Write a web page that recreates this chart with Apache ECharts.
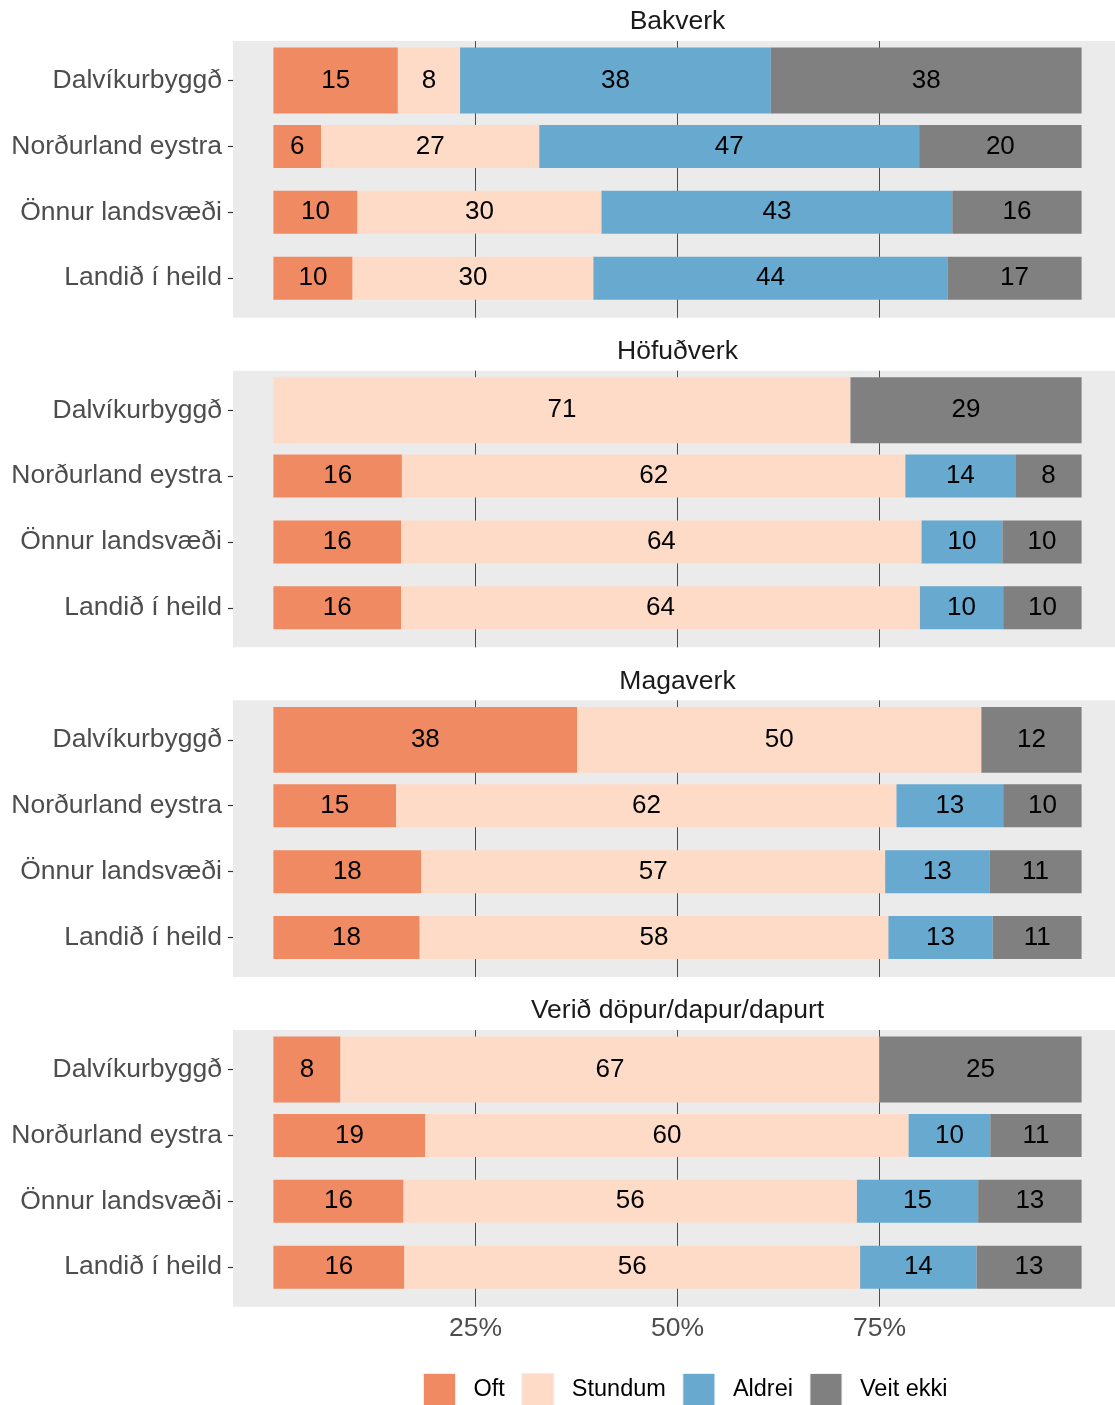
<!DOCTYPE html>
<html><head><meta charset="utf-8">
<script src="https://cdn.jsdelivr.net/npm/echarts@6/dist/echarts.min.js"></script>
<style>html,body{margin:0;padding:0;background:#fff}#c{width:1115px;height:1405px}</style>
</head><body><div id="c"></div>
<script>
// ---- data ----
const panelTitles = ['Bakverk', 'Höfuðverk', 'Magaverk', 'Verið döpur/dapur/dapurt'];
const regions = ['Dalvíkurbyggð', 'Norðurland eystra', 'Önnur landsvæði', 'Landið í heild'];
const answers = ['Oft', 'Stundum', 'Aldrei', 'Veit ekki'];
const xTicks = [25, 50, 75];
// rows: regions; columns: Oft, Stundum, Aldrei, Veit ekki (percent)
const bakverk = [
  [15.4, 7.7, 38.45, 38.45],
  [5.9, 27.0, 47.0, 20.1],
  [10.4, 30.2, 43.4, 16.0],
  [9.8, 29.8, 43.8, 16.6]
];
const hofudverk = [
  [0, 71.4, 0, 28.6],
  [15.9, 62.3, 13.6, 8.2],
  [15.8, 64.4, 10.0, 9.8],
  [15.8, 64.2, 10.3, 9.7]
];
const magaverk = [
  [37.6, 50.0, 0, 12.4],
  [15.2, 61.9, 13.2, 9.7],
  [18.3, 57.4, 12.9, 11.4],
  [18.1, 58.0, 12.9, 11.0]
];
const depurd = [
  [8.3, 66.7, 0, 25.0],
  [18.8, 59.8, 10.1, 11.3],
  [16.1, 56.1, 15.0, 12.8],
  [16.2, 56.4, 14.4, 13.0]
];
const panelData = [bakverk, hofudverk, magaverk, depurd];

// ---- styles ----
const answerColors = ['#EF8A62', '#FDDBC7', '#67A9CF', '#808080'];
const FONT = '"Liberation Sans", Arial, Helvetica, sans-serif';
const panelTop0 = 41, panelPitch = 329.67, panelH = 276.7;
const unit = panelH / 4.2;
const gridLeft = 233, gridW = 889;

const grids = [], xAxes = [], yAxes = [], series = [];
panelData.forEach((rows, p) => {
  const top = panelTop0 + p * panelPitch;
  const isLast = p === panelData.length - 1;
  const bg = grids.length;
  grids.push({left: gridLeft, top: top, width: gridW, height: panelH, show: true,
    backgroundColor: '#EBEBEB', borderWidth: 0, containLabel: false, outerBoundsMode: 'none'});
  const dg = grids.length;
  grids.push({left: gridLeft, top: top + 0.1 * unit, width: gridW, height: 4 * unit, show: false,
    containLabel: false, outerBoundsMode: 'none'});

  xAxes.push({gridIndex: bg, type: 'value', min: -5, max: 105, position: 'bottom',
    axisLine: {show: false, onZero: false},
    axisTick: {show: false, customValues: xTicks},
    splitLine: {show: true, lineStyle: {color: '#4D4D4D', width: 1}},
    axisLabel: {show: isLast, customValues: xTicks, formatter: '{value}%', color: '#4D4D4D',
      fontSize: 26.5, fontFamily: FONT, margin: 8}});
  xAxes.push({gridIndex: bg, type: 'value', min: -5, max: 105, position: 'top',
    name: panelTitles[p], nameLocation: 'middle', nameGap: 5.5,
    nameTextStyle: {color: '#1A1A1A', fontSize: 26.5, fontFamily: FONT},
    axisLine: {show: false, onZero: false}, axisTick: {show: false}, axisLabel: {show: false}, splitLine: {show: false}});
  const xd = xAxes.length;
  xAxes.push({gridIndex: dg, type: 'value', min: -5, max: 105, show: false,
    axisLine: {onZero: false}, splitLine: {show: false}});

  yAxes.push({gridIndex: bg, type: 'value', show: false, axisLine: {onZero: false}, splitLine: {show: false}});
  const yMain = yAxes.length;
  yAxes.push({gridIndex: dg, type: 'category', inverse: true, data: regions, position: 'left',
    axisLine: {show: false, onZero: false},
    axisTick: {show: true, alignWithLabel: true, length: 5, lineStyle: {color: '#333333', width: 1.2}},
    axisLabel: {color: '#4D4D4D', fontSize: 26.5, fontFamily: FONT, margin: 11},
    splitLine: {show: false}});
  const yDal = yAxes.length;
  yAxes.push({gridIndex: dg, type: 'category', inverse: true, data: regions, position: 'left', show: false,
    axisLine: {onZero: false}});

  answers.forEach((ans, a) => {
    const common = {
      type: 'bar', name: ans, xAxisIndex: xd,
      itemStyle: {color: answerColors[a]},
      label: {show: true, position: 'inside', color: '#000000', fontSize: 26, fontFamily: FONT,
        textBorderWidth: 0,
        formatter: d => (d.value > 0 ? String(Math.round(d.value)) : '')},
      emphasis: {disabled: true}
    };
    series.push(Object.assign({}, common, {
      yAxisIndex: yDal, stack: 'p' + p + 'd', barWidth: 66,
      data: rows.map((r, i) => (i === 0 ? r[a] : '-'))
    }));
    series.push(Object.assign({}, common, {
      yAxisIndex: yMain, stack: 'p' + p + 'o', barWidth: 43,
      data: rows.map((r, i) => (i === 0 ? '-' : r[a]))
    }));
  });
});

const chart = echarts.init(document.getElementById('c'), null, {renderer: 'canvas'});
chart.setOption({
  animation: false,
  backgroundColor: '#ffffff',
  textStyle: {fontFamily: FONT},
  grid: grids,
  xAxis: xAxes,
  yAxis: yAxes,
  legend: {
    data: answers, left: 423, top: 1373, padding: 0,
    icon: 'rect', itemWidth: 32, itemHeight: 32, itemGap: 16.5,
    itemStyle: {borderColor: '#EEEEEE', borderWidth: 1},
    textStyle: {color: '#000000', fontSize: 23.5, fontFamily: FONT, padding: [9, 0, 0, 13]},
    selectedMode: false
  },
  series: series
});
</script>
</body></html>
